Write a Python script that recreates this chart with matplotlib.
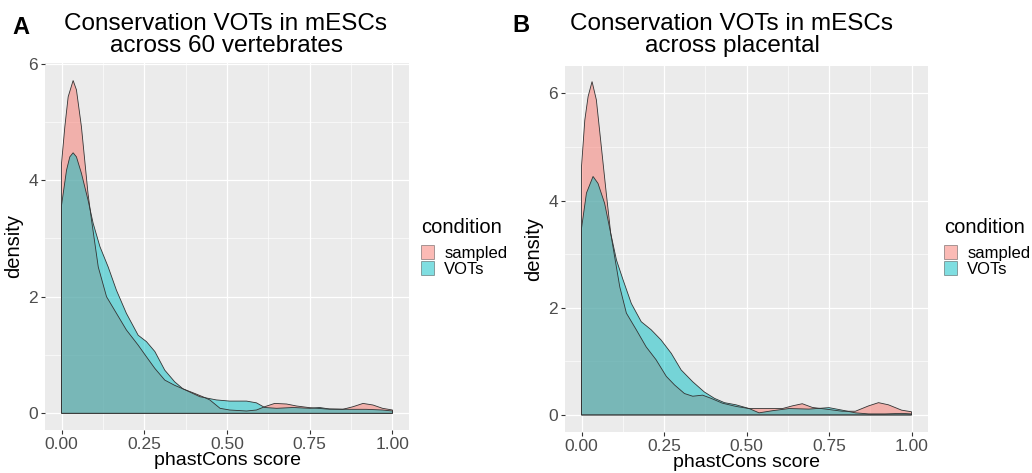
import numpy as np
import matplotlib.pyplot as plt

plt.rcParams['font.family'] = ['Liberation Sans', 'DejaVu Sans']

# panel A: across 60 vertebrates
a_samp_x = [0.000, 0.010, 0.020, 0.035, 0.045, 0.060, 0.080, 0.0905, 0.111, 0.136,
            0.166, 0.196, 0.2315, 0.2566, 0.282, 0.312, 0.342, 0.367, 0.403, 0.433,
            0.448, 0.479, 0.508, 0.559, 0.589, 0.614, 0.644, 0.680, 0.710, 0.750,
            0.800, 0.850, 0.881, 0.911, 0.941, 0.970, 1.000]
a_samp_y = [4.29, 4.92, 5.43, 5.71, 5.55, 4.92, 3.77, 3.32, 2.51, 2.00,
            1.715, 1.43, 1.17, 0.97, 0.77, 0.57, 0.48, 0.42, 0.34, 0.27,
            0.23, 0.086, 0.057, 0.040, 0.057, 0.114, 0.17, 0.16, 0.126, 0.097,
            0.074, 0.069, 0.114, 0.17, 0.143, 0.086, 0.057]
a_vots_x = [0.000, 0.015, 0.025, 0.035, 0.045, 0.060, 0.080, 0.0955, 0.116, 0.141,
            0.166, 0.196, 0.2315, 0.2566, 0.282, 0.312, 0.342, 0.367, 0.418, 0.468,
            0.508, 0.559, 0.589, 0.614, 0.650, 0.700, 0.750, 0.780, 0.810, 0.871,
            0.920, 0.970, 1.000]
a_vots_y = [3.57, 4.17, 4.40, 4.47, 4.40, 4.12, 3.66, 3.26, 2.86, 2.51,
            2.11, 1.715, 1.34, 1.23, 1.06, 0.74, 0.54, 0.42, 0.285, 0.23,
            0.21, 0.21, 0.18, 0.10, 0.086, 0.10, 0.086, 0.10, 0.074, 0.069,
            0.069, 0.057, 0.04]

# panel B: across placental
b_samp_x = [0.000, 0.010, 0.020, 0.032, 0.045, 0.060, 0.075, 0.0885, 0.1005, 0.116,
            0.136, 0.166, 0.196, 0.226, 0.257, 0.282, 0.312, 0.337, 0.367, 0.393,
            0.427, 0.468, 0.508, 0.548, 0.609, 0.639, 0.669, 0.700, 0.740, 0.790,
            0.830, 0.870, 0.900, 0.930, 0.970, 1.000]
b_samp_y = [4.63, 5.50, 5.94, 6.22, 5.88, 5.01, 4.14, 3.39, 2.95, 2.39,
            1.90, 1.59, 1.27, 1.03, 0.72, 0.56, 0.40, 0.35, 0.37, 0.31,
            0.22, 0.16, 0.12, 0.12, 0.12, 0.17, 0.21, 0.14, 0.11, 0.07,
            0.07, 0.17, 0.23, 0.19, 0.09, 0.06]
b_vots_x = [0.000, 0.015, 0.035, 0.050, 0.070, 0.0885, 0.106, 0.126, 0.151, 0.181,
            0.211, 0.241, 0.272, 0.302, 0.337, 0.372, 0.403, 0.433, 0.468, 0.508,
            0.538, 0.579, 0.629, 0.689, 0.750, 0.790, 0.830, 0.870, 0.920, 0.970,
            1.000]
b_vots_y = [3.48, 4.14, 4.45, 4.32, 3.95, 3.39, 2.89, 2.52, 2.08, 1.74,
            1.59, 1.40, 1.15, 0.84, 0.62, 0.43, 0.31, 0.23, 0.19, 0.12,
            0.04, 0.08, 0.12, 0.11, 0.137, 0.09, 0.04, 0.02, 0.02, 0.03,
            0.02]

conditions = ['sampled', 'VOTs']
colors = ['#F8766D', '#00BFC4']

W, H = 1032, 473
fig = plt.figure(figsize=(W / 100, H / 100), dpi=100)


def box(l, t, r, b):
    return [l / W, 1 - b / H, (r - l) / W, (b - t) / H]


def ggpanel(ax, series, ylim, legend_xy):
    for (x, y), lab, col in zip(series, conditions, colors):
        x = np.asarray(x)
        y = np.asarray(y)
        px = np.concatenate([x, [x[-1], x[0]]])
        py = np.concatenate([y, [0, 0]])
        ax.fill(px, py, facecolor=col, alpha=0.5, edgecolor='none', label=lab, zorder=2)
        ax.fill(px, py, facecolor='none', edgecolor='#333333', lw=0.6, zorder=3)
    ax.set_facecolor('#EBEBEB')
    ax.set_xlim(-0.05, 1.05)
    ax.set_ylim(*ylim)
    ax.set_xticks([0, 0.25, 0.5, 0.75, 1.0])
    ax.set_xticklabels(['0.00', '0.25', '0.50', '0.75', '1.00'])
    ax.set_xticks([0.125, 0.375, 0.625, 0.875], minor=True)
    ax.set_yticks([0, 2, 4, 6])
    ax.set_yticks([1, 3, 5], minor=True)
    ax.grid(which='major', color='white', lw=0.9, zorder=0)
    ax.grid(which='minor', color='white', lw=0.45, zorder=0)
    ax.set_axisbelow(True)
    for s in ax.spines.values():
        s.set_visible(False)
    ax.tick_params(which='major', length=3, width=0.8, color='#333333',
                   labelcolor='#4D4D4D', labelsize=12.5, pad=2)
    ax.tick_params(which='minor', length=0)
    ax.set_xlabel('phastCons score', fontsize=14, labelpad=0)
    ax.set_ylabel('density', fontsize=14.5, labelpad=4)
    leg = ax.legend(loc='upper left', bbox_to_anchor=legend_xy,
                    bbox_transform=fig.transFigure, frameon=False,
                    title='condition', title_fontsize=14.5, fontsize=12,
                    handlelength=0.8, handleheight=0.9, handletextpad=0.6,
                    labelspacing=0.0, borderpad=0, borderaxespad=0,
                    alignment='left')
    leg._legend_box.sep = 6  # gap between legend title and keys
    for p in leg.get_patches():
        p.set_edgecolor('#333333')
        p.set_linewidth(0.6)


ax1 = fig.add_axes(box(45, 63, 409, 430))
ggpanel(ax1, [(a_samp_x, a_samp_y), (a_vots_x, a_vots_y)], (-0.286, 6.01),
        (421 / W, 1 - 218 / H))

ax2 = fig.add_axes(box(565, 66, 928, 431.6))
ggpanel(ax2, [(b_samp_x, b_samp_y), (b_vots_x, b_vots_y)], (-0.31, 6.51),
        (944 / W, 1 - 218 / H))

fig.text(226 / W, 1 - 35 / H, 'Conservation VOTs in mESCs\nacross 60 vertebrates',
         ha='center', va='center', fontsize=17.5, linespacing=0.95)
fig.text(732 / W, 1 - 35 / H, 'Conservation VOTs in mESCs\nacross placental',
         ha='center', va='center', fontsize=17.5, linespacing=0.95)
fig.text(12 / W, 1 - 27 / H, 'A', fontsize=17, fontweight='bold', va='center')
fig.text(512 / W, 1 - 26 / H, 'B', fontsize=17, fontweight='bold', va='center')

fig.savefig('out.png', dpi=100)
